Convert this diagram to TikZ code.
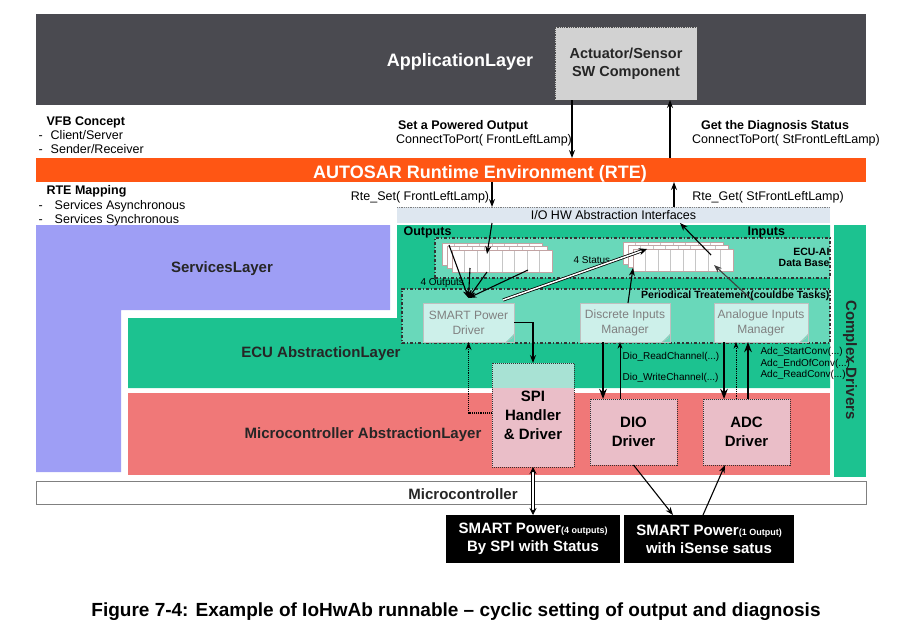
\documentclass[tikz,border=0pt]{standalone}
\usepackage{fontspec}
\setmainfont{Liberation Sans}
\usetikzlibrary{arrows.meta,positioning}
\definecolor{appgray}{RGB}{74,74,80}
\definecolor{rteor}{RGB}{255,86,20}
\definecolor{svcblue}{RGB}{158,158,245}
\definecolor{ecugreen}{RGB}{28,194,144}
\definecolor{lightgreen}{RGB}{105,216,186}
\definecolor{mcalred}{RGB}{240,120,120}
\definecolor{iofill}{RGB}{222,231,240}
\definecolor{notefill}{RGB}{205,240,234}
\definecolor{drvfill}{RGB}{234,190,200}
\definecolor{spitop}{RGB}{168,226,212}
\tikzset{blk/.style={anchor=north west,inner sep=0pt,outer sep=0pt},
txt/.style={font=\fontsize{12.5}{14.5}\selectfont,inner sep=0pt},
btxt/.style={font=\bfseries\fontsize{12.5}{14.5}\selectfont,inner sep=0pt},
lay/.style={font=\bfseries\fontsize{15}{18}\selectfont,inner sep=0pt,text=black!85},
big/.style={font=\bfseries\fontsize{18}{20}\selectfont,inner sep=0pt},
tiny/.style={font=\fontsize{10}{12}\selectfont,inner sep=0pt},
btiny/.style={font=\bfseries\fontsize{10.5}{12}\selectfont,inner sep=0pt},
note/.style={blk,draw=gray!50,line width=0.6pt,fill=notefill,text=gray,align=center,font=\fontsize{12}{15}\selectfont,
 path picture={\fill[lightgreen]([xshift=-8pt]path picture bounding box.south east)--(path picture bounding box.south east)--([yshift=8pt]path picture bounding box.south east)--cycle;
 \draw[gray!50,line width=0.6pt]([xshift=-8pt]path picture bounding box.south east)--([xshift=-2pt,yshift=4pt]path picture bounding box.south east)--([yshift=8pt]path picture bounding box.south east);}},
drv/.style={blk,draw=black!80,line width=1pt,densely dotted,fill=drvfill,align=center,font=\bfseries\fontsize{15}{19}\selectfont},
dbox/.style={blk,draw=black!80,dash dot,line width=1.2pt,fill=lightgreen},
row/.style={blk,draw=red!20!gray!60,line width=0.6pt,fill=white,minimum width=100pt,minimum height=22pt,
 path picture={\foreach\i in{1,...,7}\draw[gray!45,line width=0.6pt]([xshift=\i*12.5pt]path picture bounding box.north west)--([xshift=\i*12.5pt]path picture bounding box.south west);}},
sp/.style={blk,fill=black,text=white,align=center,font=\bfseries\fontsize{15}{18}\selectfont},
arr/.style={->,>=Stealth},
dbl/.style={double,double distance=1.5pt,line width=0.8pt,-{Stealth[length=8pt,width=7pt]}},
dbl2/.style={double,double distance=1.5pt,line width=0.8pt,{Stealth[length=7pt,width=7pt]}-{Stealth[length=7pt,width=7pt]}}}
\begin{document}
\begin{tikzpicture}[x=1pt,y=-1pt,line width=1.1pt]
\useasboundingbox(0,0)rectangle(901,641);
% layers
\node[blk,fill=appgray,minimum width=830pt,minimum height=91pt](app)at(36,14){};
\node[blk,fill=rteor,minimum width=830pt,minimum height=24pt](rte)at(36,158){};
\fill[svcblue](36,225)--(390,225)--(390,310)--(121,310)--(121,472)--(36,472)--cycle;
\fill[ecugreen](128,318)--(397,318)--(397,225)--(830,225)--(830,388)--(128,388)--cycle;
\node[blk,fill=ecugreen,minimum width=32pt,minimum height=252pt](cdd)at(834,225){};
\node[blk,fill=mcalred,minimum width=702pt,minimum height=82pt](mcal)at(128,393){};
\node[blk,draw=gray,line width=0.8pt,fill=white,minimum width=830pt,minimum height=23pt](mcu)at(36,481){};
\node[blk,fill=iofill,minimum width=433pt,minimum height=16pt,txt](io)at(397,207){I/O HW Abstraction Interfaces};
\draw[densely dotted,gray,line width=0.8pt](io.north west)--(io.north east);
\node[dbox,minimum width=395pt,minimum height=40pt](db)at(435,238){};
\node[dbox,minimum width=428pt,minimum height=54pt](per)at(402,289){};
% data base rows
\foreach\k in{0,1,2}{\node[row](out\k)at(442+5*\k,243+3.5*\k){};\node[row](in\k)at(623+5*\k,242+3.5*\k){};}
% boxes
\node[blk,draw=black!70,line width=0.8pt,densely dotted,fill=gray!35,minimum width=142pt,minimum height=73pt,align=center,text=black!85,font=\bfseries\fontsize{14.5}{18}\selectfont](sens)at(555,27){Actuator/Sensor\\SW Component};
\node[note,minimum width=91pt,minimum height=39pt](spd)at(423,303){SMART Power\\Driver};
\node[note,minimum width=90pt,minimum height=39pt](dim)at(580,303){Discrete Inputs\\Manager};
\node[note,minimum width=94pt,minimum height=39pt](aim)at(714,303){Analogue Inputs\\Manager};
\node[drv,minimum width=82pt,minimum height=104pt,
 path picture={\fill[spitop](path picture bounding box.north west)rectangle([yshift=-25pt]path picture bounding box.north east);}](spi)at(492,363){SPI\\Handler\\\& Driver};
\node[drv,minimum width=87pt,minimum height=66pt](dio)at(590,399){DIO\\Driver};
\node[drv,minimum width=87pt,minimum height=66pt](adc)at(703,399){ADC\\Driver};
\node[sp,minimum width=174pt,minimum height=48pt](sp4)at(446,515){SMART Power{\fontsize{9}{9}\selectfont(4 outputs)}\\By SPI with Status};
\node[sp,minimum width=170pt,minimum height=48pt](sp1)at(624,515){SMART Power{\fontsize{9}{9}\selectfont(1 Output)}\\with iSense satus};
% texts
\node[big,text=white](applbl)at(460,62){ApplicationLayer};
\node[big,text=white,anchor=base](rtelbl)at(480,178){AUTOSAR Runtime Environment (RTE)};
\node[btxt,anchor=base west](vfb)at(46,125){VFB Concept};
\node[txt,anchor=base west](cs)at(38,139){-\hspace{8pt}Client/Server};
\node[txt,anchor=base west](sr)at(38,153){-\hspace{8pt}Sender/Receiver};
\node[btxt,anchor=base west](map)at(46,194){RTE Mapping};
\node[txt,anchor=base west](asy)at(38,209){-\hspace{12pt}Services Asynchronous};
\node[txt,anchor=base west](syn)at(38,223){-\hspace{12pt}Services Synchronous};
\node[btxt,anchor=base](setlbl)at(463,129){Set a Powered Output};
\node[txt,anchor=base](setport)at(484,143){ConnectToPort( FrontLeftLamp)};
\node[btxt,anchor=base](getlbl)at(775,129){Get the Diagnosis Status};
\node[txt,anchor=base](getport)at(786,143){ConnectToPort( StFrontLeftLamp)};
\node[txt,anchor=base](rteset)at(420,200){Rte\_Set( FrontLeftLamp)};
\node[txt,anchor=base](rteget)at(768,200){Rte\_Get( StFrontLeftLamp)};
\node[btxt,anchor=base west](outlbl)at(403,235){Outputs};
\node[btxt,anchor=base west](inlbl)at(747,235){Inputs};
\node[btiny,anchor=base east](dblbl)at(830,255){ECU-AI};
\node[btiny,anchor=base east](dblbl2)at(830,266){Data Base};
\node[tiny,anchor=base west](st4)at(573,263){4 Status};
\node[tiny,anchor=base west](out4)at(420,285){4 Outputs};
\node[btiny,anchor=base east](perlbl)at(830,298){Periodical Treatement(couldbe Tasks)};
\node[tiny,anchor=base west](dread)at(622,359){Dio\_ReadChannel(...)};
\node[tiny,anchor=base west](dwrite)at(622,380){Dio\_WriteChannel(...)};
\node[tiny,anchor=base west](astart)at(760,354){Adc\_StartConv(...)};
\node[tiny,anchor=base west](aend)at(760,366){Adc\_EndOfConv(...)};
\node[tiny,anchor=base west](aread)at(760,377){Adc\_ReadConv(...)};
\node[lay](svclbl)at(222,269){ServicesLayer};
\node[lay](eculbl)at(321,354){ECU AbstractionLayer};
\node[lay](mcallbl)at(363,435){Microcontroller AbstractionLayer};
\node[lay](mculbl)at(463,494){Microcontroller};
\node[lay,rotate=-90](cddlbl)at(850,360){Complex Drivers};
\node[font=\bfseries\fontsize{19}{21}\selectfont,inner sep=0pt](cap)at(456,612){Figure 7-4: Example of IoHwAb runnable – cyclic setting of output and diagnosis};
% connectors
\draw[arr]([xshift=-54pt]sens.south)--([xshift=-54pt]sens.south|-rte.north);
\draw[arr]([xshift=44pt]sens.south|-rte.north)--([xshift=44pt]sens.south);
\draw[arr]([xshift=-121.5pt]io.north|-rte.south)--([xshift=-121.5pt]io.north);
\draw[arr]([xshift=-121.5pt]io.south)--([xshift=-15pt,yshift=-4pt]out2.north);
\draw[arr]([xshift=60.5pt]io.north)--([xshift=60.5pt]io.north|-rte.south);
\draw[arr]([xshift=28pt,yshift=-6pt]in2.north)--([xshift=66.5pt]io.south);
\foreach\dx/\dy in{-3/27,18/4,35/0,76/2}\draw[arr]([xshift=\dx pt,yshift=\dy pt]out2.south west)--([yshift=5pt]spd.north);
\draw[dbl]([xshift=-11pt,yshift=3pt]spd.north east)--([xshift=14pt]in2.north west);
\draw[arr]([xshift=3pt]dim.north)--([yshift=3pt]in2.south west);
\draw[arr,black!75]([xshift=-9pt,yshift=3pt]aim.north)--([xshift=-19pt,yshift=6pt]in2.south east);
\draw[arr](spd.east)-|(spi.north);
\draw[arr,densely dotted]([yshift=2pt]spi.west)-|(spd.south);
\draw[arr,line width=1.6pt]([xshift=-22pt]dim.south)--([xshift=-22pt]dim.south|-dio.north);
\draw[arr,line width=0.8pt]([xshift=-5pt]dim.south|-dio.north)--([xshift=-5pt]dim.south);
\draw[arr,line width=1.6pt]([xshift=-37pt]aim.south)--([xshift=-37pt]aim.south|-adc.north);
\draw[arr,line width=0.8pt,densely dotted]([xshift=-25pt]aim.south|-adc.north)--([xshift=-25pt]aim.south);
\draw[arr,line width=1.6pt]([xshift=-13pt]aim.south|-adc.north)--([xshift=-13pt]aim.south);
\draw[dbl2](spi.south)--(sp4.north);
\draw[arr](dio.south)--([xshift=-36pt]sp1.north);
\draw[arr]([xshift=-6pt]sp1.north)--([xshift=-21.5pt]adc.south);
\end{tikzpicture}
\end{document}
